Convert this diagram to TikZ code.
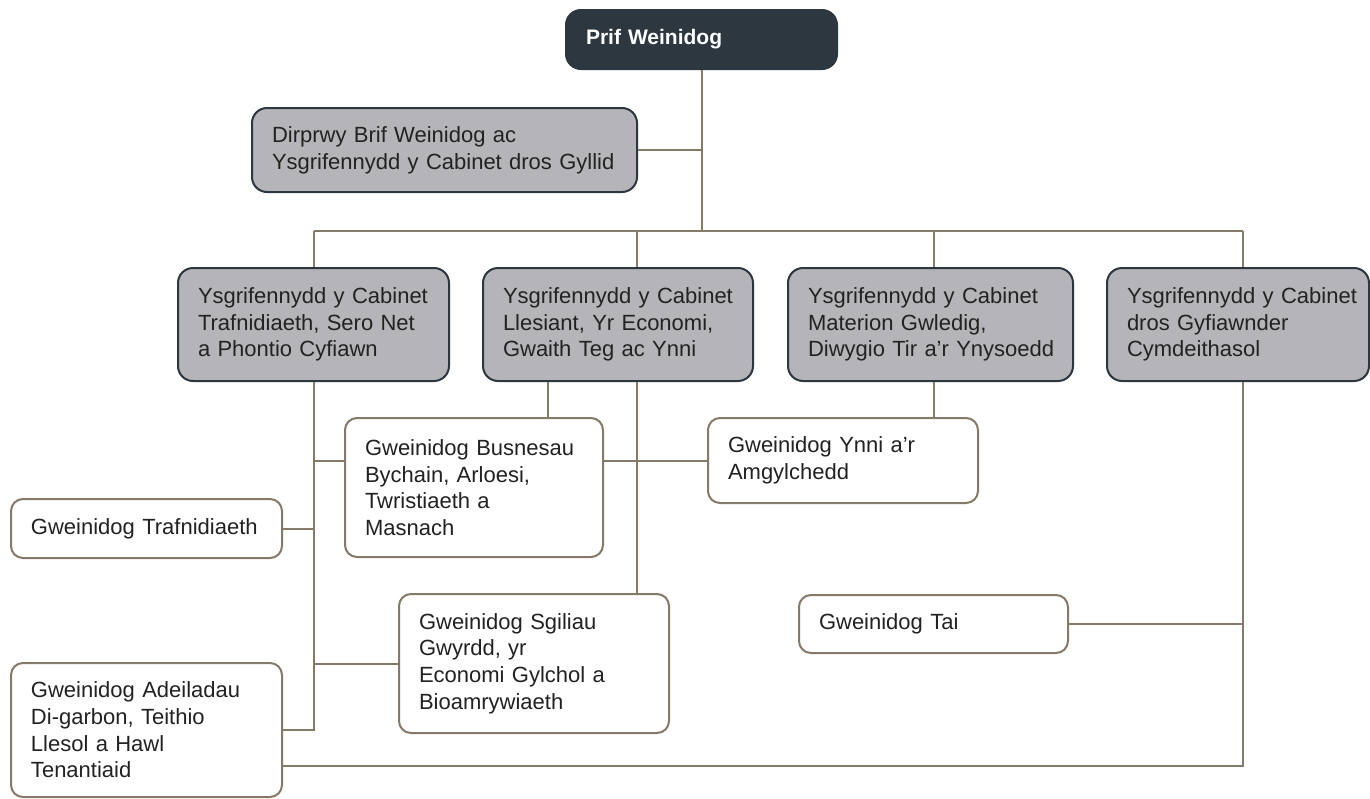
\documentclass[tikz,border=0pt]{standalone}
\usepackage{fontspec}
\setmainfont{Liberation Sans}
\usepackage{tikz}
\usetikzlibrary{positioning}
\definecolor{slate}{HTML}{2C3740}
\definecolor{cabgrey}{HTML}{B4B4B9}
\definecolor{linkbrown}{HTML}{857968}
\definecolor{inktext}{HTML}{222222}

\begin{document}
\begin{tikzpicture}[x=0.5pt, y=-0.5pt,
  every node/.style={font=\fontsize{11}{13.35}\selectfont, text=inktext, align=left, inner xsep=10pt, inner ysep=0pt},
  chief/.style={rectangle, rounded corners=7.5pt, fill=slate, draw=slate, line width=1pt, text=white, font=\fontsize{10.5}{13}\selectfont\bfseries},
  cabinet/.style={rectangle, rounded corners=7.5pt, fill=cabgrey, draw=slate, line width=1pt},
  minister/.style={rectangle, rounded corners=6pt, fill=white, draw=linkbrown, line width=1pt},
  link/.style={draw=linkbrown, line width=1pt}]
  \useasboundingbox (0,0) rectangle (1370,798);

  \node[chief, text width=115.5pt, minimum height=29.5pt] (prif) at (701.5, 39.5) {Prif Weinidog};
  \node[cabinet, text width=172.5pt, minimum height=42pt] (dirprwy) at (444.5, 150) {Dirprwy Brif Weinidog ac\\ Ysgrifennydd y Cabinet dros Gyllid};

  \node[cabinet, text width=115.5pt, minimum height=56.5pt] (trafn) at (313.5, 324.5) {\mbox{Ysgrifennydd y Cabinet}\\ Trafnidiaeth, Sero Net\\ a Phontio Cyfiawn};
  \node[cabinet, text width=115pt, minimum height=56.5pt] (llesiant) at (618, 324.5) {\mbox{Ysgrifennydd y Cabinet}\\ Llesiant, Yr Economi,\\ Gwaith Teg ac Ynni};
  \node[cabinet, text width=122.5pt, minimum height=56.5pt] (gwledig) at (930.5, 324.5) {\mbox{Ysgrifennydd y Cabinet}\\ Materion Gwledig,\\ \mbox{Diwygio Tir a’r Ynysoedd}};
  \node[cabinet, text width=111pt, minimum height=56.5pt] (cyfiawnder) at (1238, 324.5) {\mbox{Ysgrifennydd y Cabinet}\\ dros Gyfiawnder\\ Cymdeithasol};

  \node[minister, text width=109pt, minimum height=69.5pt] (busnesau) at (474, 487.5) {\mbox{Gweinidog Busnesau}\\ Bychain, Arloesi,\\ Twristiaeth a\\ Masnach};
  \node[minister, text width=115pt, minimum height=42.5pt] (ynni) at (843, 460.5) {Gweinidog Ynni a’r\\ Amgylchedd};
  \node[minister, text width=115.5pt, minimum height=29.5pt] (trafnidiaeth) at (146.5, 528.5) {Gweinidog Trafnidiaeth};
  \node[minister, text width=115pt, minimum height=69.5pt] (sgiliau) at (534, 663.5) {Gweinidog Sgiliau\\ Gwyrdd, yr\\ Economi Gylchol a\\ Bioamrywiaeth};
  \node[minister, text width=114.5pt, minimum height=29pt] (tai) at (933.5, 624) {Gweinidog Tai};
  \node[minister, text width=115.5pt, minimum height=67pt] (adeiladau) at (146.5, 730) {Gweinidog Adeiladau\\ Di-garbon, Teithio\\ Llesol a Hawl\\ Tenantiaid};

  \coordinate (c1) at (314, 231);
  \coordinate (c2) at (637, 231);
  \coordinate (c3) at (934, 231);
  \coordinate (c4) at (1243, 231);
  \coordinate (d2) at (548, 231);
  \coordinate (c5) at (1243, 766);

  \draw[link] (prif.south) -- (prif.south |- c1);
  \draw[link] (dirprwy.east) -- (dirprwy.east -| prif.south);
  \draw[link] (c1) -- (c4);
  \draw[link] (c1) -- (trafn.north -| c1);
  \draw[link] (c2) -- (llesiant.north -| c2);
  \draw[link] (c3) -- (gwledig.north -| c3);
  \draw[link] (c4) -- (cyfiawnder.north -| c4);

  \draw[link] (trafn.south -| c1) |- (adeiladau.east);
  \draw[link] (trafnidiaeth.east) -- (trafnidiaeth.east -| c1);
  \draw[link] (c1 |- ynni.west) -- (busnesau.west |- ynni.west);
  \draw[link] (sgiliau.west) -- (sgiliau.west -| c1);
  \draw[link] (llesiant.south -| d2) -- (busnesau.north -| d2);
  \draw[link] (llesiant.south -| c2) -- (sgiliau.north -| c2);
  \draw[link] (busnesau.east |- ynni.west) -- (ynni.west);
  \draw[link] (gwledig.south -| c3) -- (ynni.north -| c3);
  \draw[link] (cyfiawnder.south -| c4) -- (c5) -- (c5 -| adeiladau.east);
  \draw[link] (tai.east) -- (tai.east -| c4);
\end{tikzpicture}
\end{document}
